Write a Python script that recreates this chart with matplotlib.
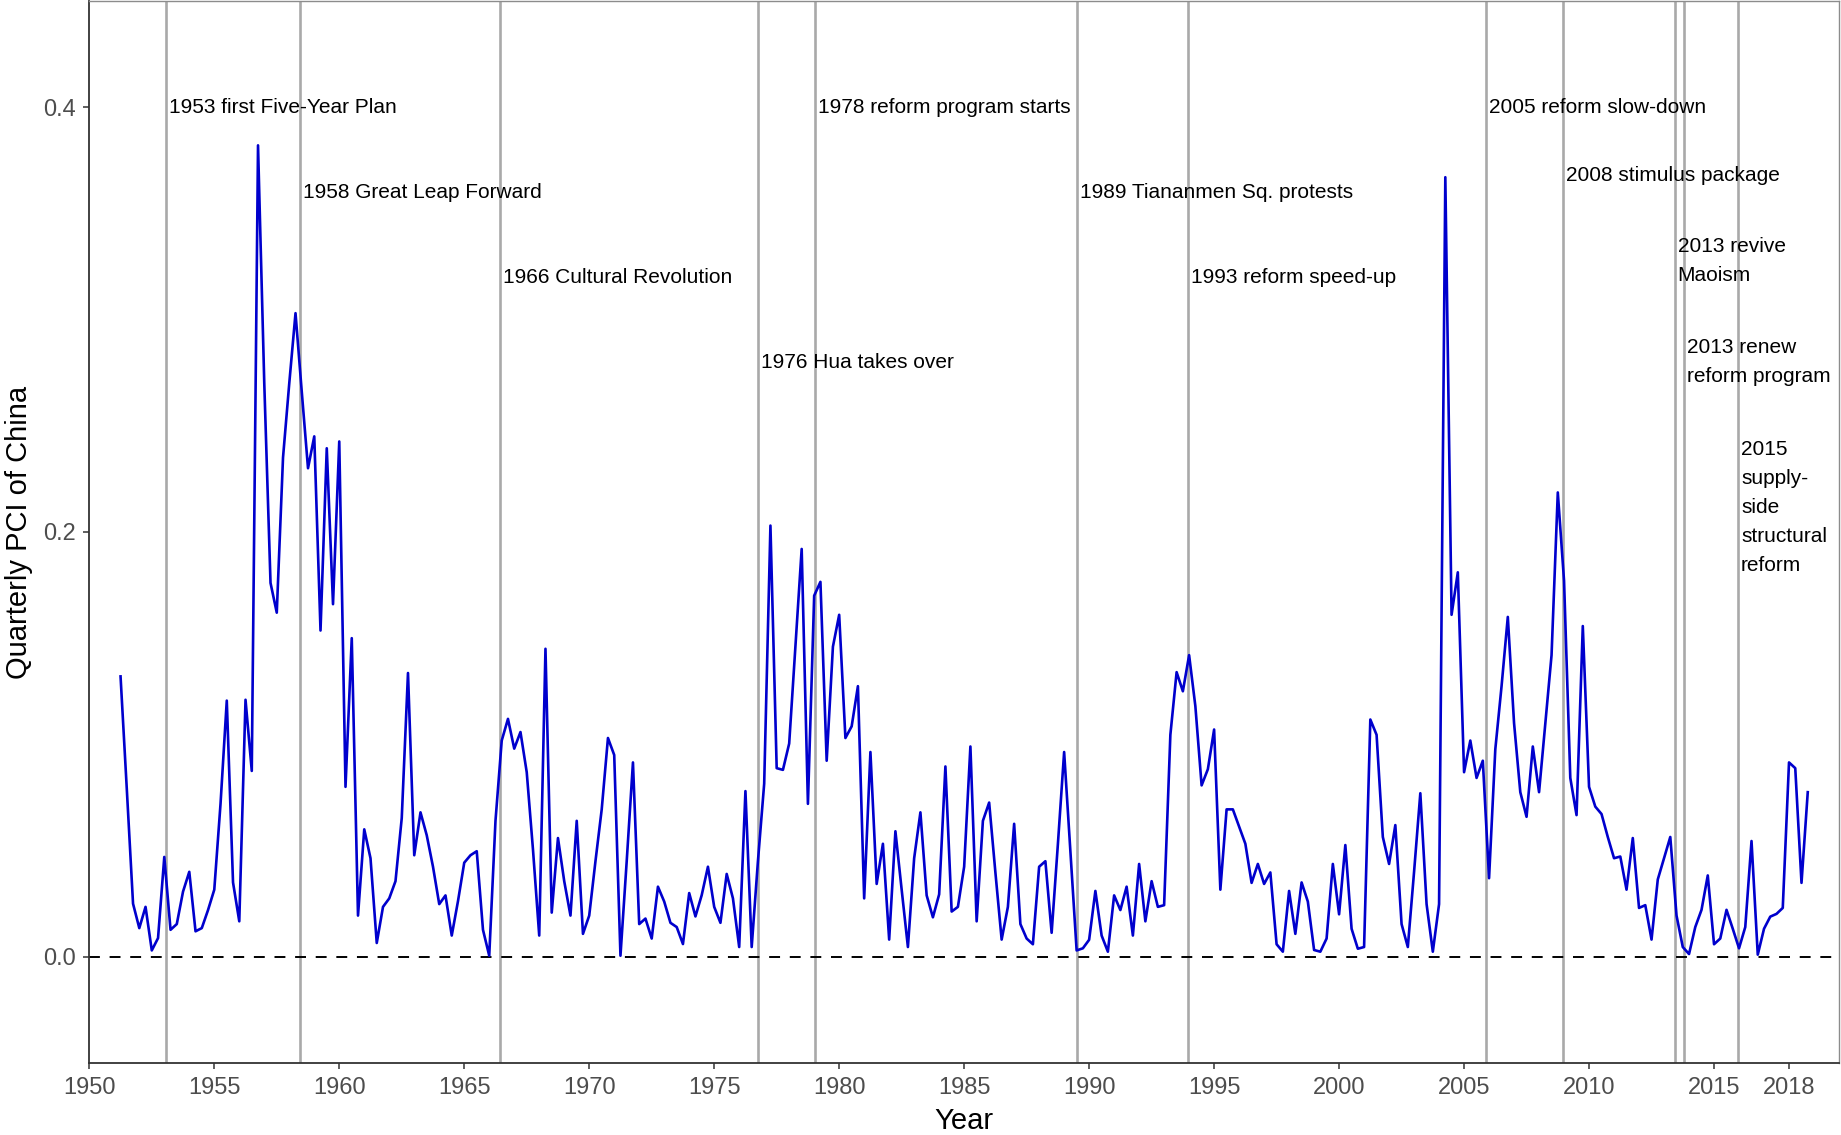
import numpy as np
import pandas as pd
import matplotlib
matplotlib.use("Agg")
import matplotlib.pyplot as plt

plt.rcParams['font.family'] = ['Liberation Sans', 'DejaVu Sans']

# quarterly PCI values, 1951Q2 - 2018Q4
pci = [
    0.132, 0.079, 0.025, 0.0135, 0.0235, 0.003, 0.0088, 0.047, 0.0127, 0.0154,
    0.0307, 0.040, 0.012, 0.0135, 0.022, 0.0316, 0.072, 0.1206, 0.035, 0.0167,
    0.121, 0.0875, 0.382, 0.27, 0.176, 0.162, 0.235, 0.27, 0.303, 0.266,
    0.23, 0.245, 0.1536, 0.2394, 0.166, 0.2426, 0.080, 0.15, 0.0194, 0.06,
    0.0464, 0.0065, 0.0235, 0.0275, 0.0356, 0.0653, 0.1336, 0.0478, 0.068, 0.0572,
    0.0424, 0.0248, 0.0289, 0.010, 0.0262, 0.0443, 0.0478, 0.0497, 0.0127, 0.0005,
    0.064, 0.1018, 0.112, 0.098, 0.1058, 0.0869, 0.0505, 0.010, 0.145, 0.0208,
    0.0559, 0.0356, 0.0194, 0.064, 0.0108, 0.0194, 0.045, 0.0694, 0.103, 0.095,
    0.0005, 0.045, 0.0915, 0.0154, 0.018, 0.0086, 0.033, 0.026, 0.016, 0.014,
    0.006, 0.030, 0.019, 0.029, 0.0424, 0.0235, 0.016, 0.039, 0.0275, 0.0046,
    0.078, 0.0046, 0.045, 0.0815, 0.203, 0.0888, 0.088, 0.1004, 0.146, 0.192,
    0.072, 0.17, 0.1765, 0.0923, 0.146, 0.161, 0.103, 0.1085, 0.1274, 0.0275,
    0.0964, 0.0343, 0.0532, 0.0081, 0.0591, 0.0316, 0.0046, 0.0464, 0.068, 0.0289,
    0.0186, 0.0294, 0.0896, 0.0213, 0.0235, 0.0424, 0.099, 0.0167, 0.064, 0.0726,
    0.0397, 0.0081, 0.0235, 0.0626, 0.0154, 0.0086, 0.0059, 0.0424, 0.045, 0.0113,
    0.053, 0.0964, 0.05, 0.003, 0.004, 0.008, 0.031, 0.010, 0.0024, 0.0289,
    0.022, 0.033, 0.010, 0.0437, 0.0167, 0.0356, 0.0235, 0.0243, 0.1045, 0.134,
    0.125, 0.142, 0.118, 0.0807, 0.0883, 0.107, 0.0316, 0.0694, 0.0694, 0.0613,
    0.0532, 0.0348, 0.0437, 0.0343, 0.0397, 0.0059, 0.0024, 0.031, 0.0108, 0.035,
    0.026, 0.0032, 0.0024, 0.0086, 0.0437, 0.020, 0.0526, 0.0132, 0.0038, 0.0046,
    0.1117, 0.1045, 0.0564, 0.0437, 0.062, 0.0154, 0.0046, 0.040, 0.077, 0.0248,
    0.0024, 0.0248, 0.367, 0.161, 0.181, 0.0869, 0.1018, 0.0842, 0.0923, 0.037,
    0.0977, 0.1274, 0.160, 0.110, 0.0775, 0.0659, 0.099, 0.0775, 0.110, 0.142,
    0.2186, 0.177, 0.0842, 0.0667, 0.1557, 0.080, 0.0707, 0.0672, 0.0564, 0.0464,
    0.0472, 0.0316, 0.0559, 0.023, 0.0243, 0.0081, 0.0364, 0.0464, 0.0564, 0.0194,
    0.0046, 0.0013, 0.014, 0.0221, 0.0383, 0.0059, 0.0086, 0.0221, 0.0132, 0.004,
    0.014, 0.0545, 0.001, 0.0132, 0.0189, 0.0202, 0.023, 0.0915, 0.0888, 0.0348,
    0.0775,
]
quarters = pd.period_range('1951Q2', '2018Q4', freq='Q')
years = quarters.year + (quarters.quarter - 1) / 4.0

# events: date (decimal year), label, label height
event_years = [1953.06, 1958.42, 1966.42, 1976.76, 1979.02, 1989.52, 1993.94,
               2005.88, 2008.96, 2013.42, 2013.80, 2015.96]
event_labels = ["1953 first Five-Year Plan", "1958 Great Leap Forward",
                "1966 Cultural Revolution", "1976 Hua takes over",
                "1978 reform program starts", "1989 Tiananmen Sq. protests",
                "1993 reform speed-up", "2005 reform slow-down",
                "2008 stimulus package", "2013 revive\nMaoism",
                "2013 renew\nreform program",
                "2015\nsupply-\nside\nstructural\nreform"]
label_y = [0.40, 0.36, 0.32, 0.28, 0.40, 0.36, 0.32, 0.40, 0.368, 0.3275, 0.28, 0.2115]

xticks = [1950, 1955, 1960, 1965, 1970, 1975, 1980, 1985, 1990, 1995, 2000, 2005, 2010, 2015, 2018]
yticks = [0.0, 0.2, 0.4]

fig = plt.figure(figsize=(18.41, 11.35), dpi=100)
ax = fig.add_axes([89.3 / 1841, 1 - 1063 / 1135, (1839 - 89.3) / 1841, 1063 / 1135 - 0.0008])

# event lines + labels
for ev, lab, ly in zip(event_years, event_labels, label_y):
    ax.axvline(ev, color='#a9a9a9', lw=1.9, zorder=1)
    ax.text(ev + 0.12, ly, lab, ha='left', va='center', fontsize=15,
            color='black', linespacing=1.68, zorder=3)

ax.axhline(0, color='black', lw=1.4, ls=(0, (5.6, 5)), zorder=2)
ax.plot(years, pci, color='#0000cd', lw=1.9, zorder=4)

ax.set_xlim(1950, 2020)
ax.set_ylim(-0.05, 0.45)
ax.set_xticks(xticks)
ax.set_xticklabels([str(t) for t in xticks])
ax.set_yticks(yticks)
ax.set_yticklabels(["0.0", "0.2", "0.4"])
ax.tick_params(axis='both', labelsize=17, labelcolor='#4d4d4d', color='#333333',
               length=4.5, width=1.1, pad=5.5)

for side in ['left', 'bottom']:
    ax.spines[side].set_color('#333333')
    ax.spines[side].set_linewidth(1.3)
for side in ['top', 'right']:
    ax.spines[side].set_color('#8c8c8c')
    ax.spines[side].set_linewidth(1.0)

fig.text(964 / 1841, 1 - 1121 / 1135, "Year", ha='center', va='center', fontsize=21)
fig.text(19.5 / 1841, 1 - 532 / 1135, "Quarterly PCI of China", ha='center', va='center',
         rotation=90, fontsize=21)

fig.savefig("out.png", dpi=100)
